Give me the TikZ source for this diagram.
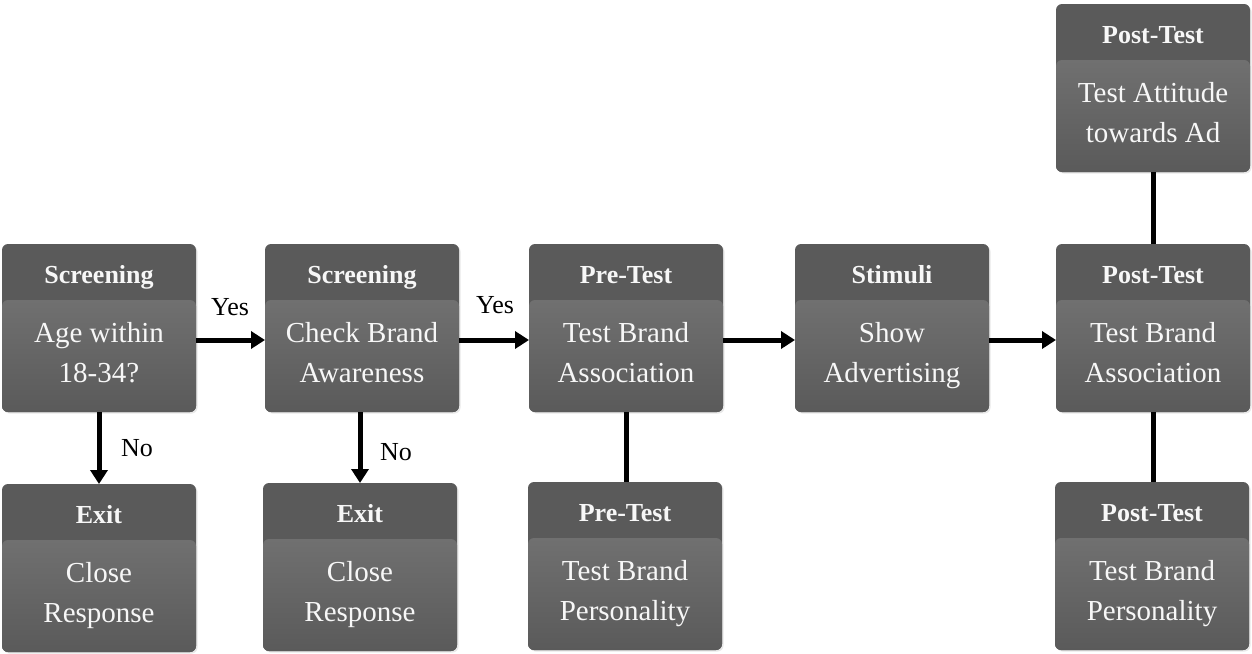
\documentclass[tikz,border=0pt]{standalone}
\usepackage{fontspec}
\setmainfont{Liberation Serif}
\usetikzlibrary{arrows.meta,shadows}

\definecolor{hdr}{HTML}{5A5A5A}
\definecolor{bodytop}{HTML}{7B7B7B}
\definecolor{bodybot}{HTML}{5A5A5A}
\definecolor{txt}{HTML}{F7F7F7}

\tikzset{
  fbox/.style={rectangle, rounded corners=6pt, minimum width=194pt,
    minimum height=168pt, inner sep=0pt, outer sep=0pt, fill=hdr,
    drop shadow={opacity=0.18, shadow xshift=1.5pt, shadow yshift=-1.5pt},
    path picture={
      \shade[top color=bodytop, bottom color=bodybot]
        ([yshift=-56pt]path picture bounding box.north west)
        rectangle (path picture bounding box.south east);
    }},
  headtext/.style={text=txt, font=\fontsize{26}{30}\selectfont\bfseries,
    inner sep=0pt, anchor=base},
  bodytext/.style={text=txt, font=\fontsize{29}{40}\selectfont,
    align=center, inner sep=0pt, anchor=north},
  lbl/.style={font=\fontsize{26}{30}\selectfont, inner sep=0pt},
  flow/.style={line width=5pt, -{Triangle[length=14pt,width=17pt]}},
  link/.style={line width=5pt},
}

% box: name, x, y, header, body
\newcommand\flowbox[5]{%
  \node[fbox] (#1) at (#2,#3) {};
  \node[headtext] (#1-head) at ([yshift=-39.5pt]#1.north) {#4};
  \node[bodytext] (#1-body) at ([yshift=-78pt]#1.north) {#5};
}

\begin{document}
\begin{tikzpicture}[x=1pt,y=-1pt]
\useasboundingbox (0,0) rectangle (1252,653);

\flowbox{age}{99}{328}{Screening}{Age within\\18-34?}
\flowbox{aware}{362}{328}{Screening}{Check Brand\\Awareness}
\flowbox{preassoc}{626}{328}{Pre-Test}{Test Brand\\Association}
\flowbox{stim}{892}{328}{Stimuli}{Show\\Advertising}
\flowbox{postassoc}{1153}{328}{Post-Test}{Test Brand\\Association}
\flowbox{attitude}{1153}{88}{Post-Test}{Test Attitude\\towards Ad}
\flowbox{exitA}{99}{568}{Exit}{Close\\Response}
\flowbox{exitB}{360}{567}{Exit}{Close\\Response}
\flowbox{prepers}{625}{566}{Pre-Test}{Test Brand\\Personality}
\flowbox{postpers}{1152}{566}{Post-Test}{Test Brand\\Personality}

% main flow
\draw[flow] ([yshift=-12pt]age.east) -- ([yshift=-12pt]aware.west);
\draw[flow] ([yshift=-12pt]aware.east) -- ([yshift=-12pt]preassoc.west);
\draw[flow] ([yshift=-12pt]preassoc.east) -- ([yshift=-12pt]stim.west);
\draw[flow] ([yshift=-12pt]stim.east) -- ([yshift=-12pt]postassoc.west);

% exits
\draw[flow] (age.south) -- (age.south |- exitA.north);
\draw[flow] (aware.south -| exitB.north) -- (exitB.north);

% attached tests
\draw[link] (preassoc.south) -- (preassoc.south |- prepers.north);
\draw[link] (postassoc.north) -- (postassoc.north |- attitude.south);
\draw[link] (postassoc.south) -- (postassoc.south |- postpers.north);

% branch labels
\node[lbl] (yesA) at (230,307) {Yes};
\node[lbl] (yesB) at (495,305) {Yes};
\node[lbl] (noA) at (137,448) {No};
\node[lbl] (noB) at (396,452) {No};
\end{tikzpicture}
\end{document}
